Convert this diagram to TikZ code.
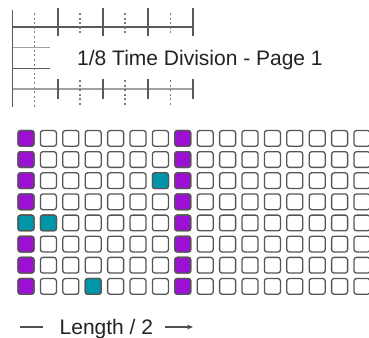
\documentclass[tikz,border=0pt]{standalone}
\usepackage{fontspec}
\setmainfont{Liberation Sans}
\usetikzlibrary{arrows.meta}
\definecolor{padpurple}{RGB}{155,17,209}
\definecolor{padteal}{RGB}{0,150,170}
\definecolor{cellborder}{RGB}{85,85,85}
\definecolor{tdark}{RGB}{90,90,90}
\definecolor{tlight}{RGB}{160,160,160}
\definecolor{txt}{RGB}{34,34,34}
\begin{document}
\begin{tikzpicture}[x=1pt,y=-1pt,
  cell/.style={draw=cellborder, line width=1.3pt, rounded corners=2.5pt,
    minimum width=16pt, minimum height=15.7pt, inner sep=0pt, fill=white},
  purplecell/.style={cell, fill=padpurple},
  tealcell/.style={cell, fill=padteal},
  solidtick/.style={draw=tdark, line width=1.5pt},
  dotline/.style={draw=tdark!80, line width=1.4pt, dash pattern=on 2pt off 2.6pt},
  label/.style={text=txt, font=\fontsize{21}{25}\selectfont, inner sep=0pt}]
\useasboundingbox (0,0) rectangle (369,337);
\begin{scope}
\clip (0,0) rectangle (369,337);
% timeline
\draw[solidtick] (12.5,10) -- (12.5,107);
\draw[draw=tdark, line width=1.2pt] (12.5,27) -- (193,27);
\draw[draw=tlight, line width=1.4pt] (12.5,89) -- (193,89);
\draw[draw=tlight, line width=1.4pt] (12.5,47.7) -- (50,47.7);
\draw[draw=tdark, line width=1.2pt] (12.5,68.3) -- (50,68.3);
\foreach \x in {58,103,148,193} {
  \draw[solidtick] (\x,8) -- (\x,36);
  \draw[solidtick] (\x,79) -- (\x,99);
}
\draw[dotline] (34.7,13) -- (34.7,108);
\foreach \x in {80,125,170.5} {
  \draw[dotline] (\x,13) -- (\x,35);
  \draw[dotline] (\x,80) -- (\x,107);
}
\node[label, anchor=base west] (title) at (77,66) {1/8 Time Division - Page 1};
% grid
\foreach \r in {0,...,7} {
  \foreach \c in {0,...,15} {
    \node[cell] (s-\r-\c) at ({26+22.4*\c},{138.4+21.14*\r}) {};
  }
}
\foreach \r in {0,1,2,3,5,6,7} { \node[purplecell] at (s-\r-0) {}; }
\foreach \r in {0,...,7} { \node[purplecell] at (s-\r-7) {}; }
\node[tealcell] at (s-4-0) {};
\node[tealcell] at (s-4-1) {};
\node[tealcell] at (s-2-6) {};
\node[tealcell] at (s-7-3) {};
% length label
\node[label, anchor=base west] (len) at (59.5,334.5) {Length / 2};
\coordinate (la) at (20,327);
\coordinate (lb) at (43,327);
\coordinate (ra) at (165,327);
\coordinate (rb) at (193,327);
\draw[draw=txt!80, line width=1.1pt] (la) -- (lb);
\draw[draw=txt!80, line width=1.1pt, -{Stealth[length=6pt,width=5pt]}] (ra) -- (rb);
\end{scope}
\end{tikzpicture}
\end{document}
